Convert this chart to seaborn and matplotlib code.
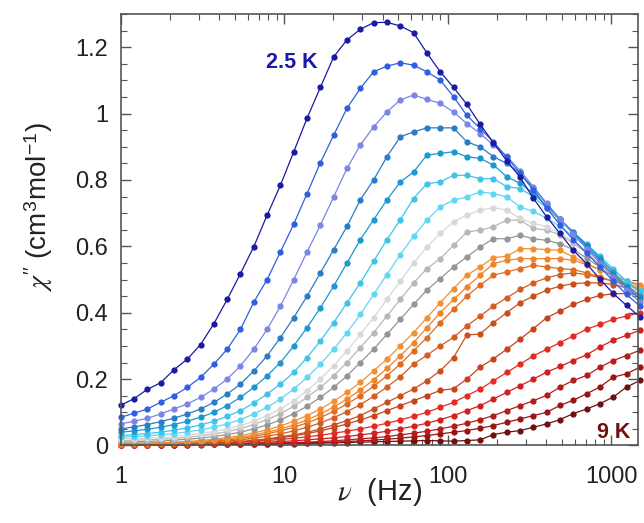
import pandas as pd
import seaborn as sns
import matplotlib.pyplot as plt
from matplotlib.ticker import FuncFormatter, MultipleLocator

# frequency grid (Hz), 40 points
freq = [1.00, 1.206, 1.455, 1.755, 2.117, 2.553, 3.080, 3.715, 4.481, 5.405,
        6.520, 7.864, 9.486, 11.44, 13.80, 16.65, 20.08, 24.22, 29.22, 35.24,
        42.51, 51.28, 61.85, 74.61, 90.00, 108.6, 130.9, 157.9, 190.5, 229.8,
        277.2, 334.3, 403.3, 486.5, 586.8, 707.8, 853.8, 1030, 1242, 1500]

temps = [2.5, 2.75, 3, 3.25, 3.5, 3.75, 4, 4.25, 4.5, 4.75, 5, 5.25, 5.5, 5.75,
         6, 6.5, 7, 7.5, 8, 8.5, 9]

# chi'' (cm3/mol) per temperature
chi_2p5 = [0.121, 0.141, 0.169, 0.189, 0.228, 0.260, 0.304, 0.367, 0.440, 0.518, 0.599, 0.694, 0.784, 0.885, 0.986, 1.079, 1.171, 1.222, 1.254, 1.274, 1.275, 1.264, 1.244, 1.183, 1.126, 1.079, 1.028, 0.968, 0.912, 0.858, 0.808, 0.745, 0.689, 0.639, 0.588, 0.548, 0.501, 0.458, 0.422, 0.387]
chi_2p75 = [0.085, 0.097, 0.110, 0.130, 0.150, 0.175, 0.205, 0.245, 0.290, 0.350, 0.432, 0.500, 0.583, 0.667, 0.759, 0.852, 0.935, 1.016, 1.076, 1.126, 1.143, 1.153, 1.146, 1.126, 1.101, 1.051, 0.995, 0.955, 0.915, 0.868, 0.820, 0.770, 0.715, 0.665, 0.620, 0.580, 0.538, 0.495, 0.455, 0.420]
chi_3 = [0.065, 0.073, 0.082, 0.095, 0.110, 0.125, 0.145, 0.170, 0.200, 0.240, 0.290, 0.350, 0.420, 0.500, 0.583, 0.664, 0.749, 0.835, 0.905, 0.960, 1.005, 1.041, 1.056, 1.043, 1.031, 1.005, 0.970, 0.940, 0.905, 0.872, 0.828, 0.780, 0.730, 0.682, 0.637, 0.593, 0.551, 0.508, 0.468, 0.432]
chi_3p25 = [0.050, 0.056, 0.063, 0.072, 0.082, 0.095, 0.110, 0.130, 0.155, 0.185, 0.225, 0.270, 0.325, 0.385, 0.450, 0.520, 0.590, 0.660, 0.740, 0.800, 0.870, 0.930, 0.945, 0.957, 0.957, 0.957, 0.915, 0.900, 0.870, 0.850, 0.820, 0.775, 0.728, 0.682, 0.640, 0.600, 0.557, 0.515, 0.476, 0.440]
chi_3p5 = [0.040, 0.044, 0.049, 0.055, 0.063, 0.073, 0.085, 0.100, 0.120, 0.145, 0.175, 0.210, 0.250, 0.300, 0.355, 0.415, 0.480, 0.550, 0.620, 0.680, 0.740, 0.794, 0.824, 0.875, 0.880, 0.885, 0.870, 0.865, 0.845, 0.810, 0.790, 0.760, 0.722, 0.682, 0.643, 0.605, 0.565, 0.522, 0.482, 0.450]
chi_3p75 = [0.030, 0.033, 0.036, 0.040, 0.046, 0.053, 0.062, 0.073, 0.088, 0.105, 0.128, 0.155, 0.185, 0.220, 0.265, 0.315, 0.370, 0.430, 0.490, 0.555, 0.620, 0.680, 0.744, 0.789, 0.794, 0.814, 0.814, 0.804, 0.804, 0.780, 0.774, 0.750, 0.715, 0.678, 0.642, 0.607, 0.570, 0.532, 0.495, 0.465]
chi_4 = [0.025, 0.027, 0.029, 0.032, 0.036, 0.041, 0.047, 0.055, 0.065, 0.078, 0.095, 0.115, 0.140, 0.170, 0.205, 0.245, 0.290, 0.340, 0.395, 0.455, 0.515, 0.575, 0.630, 0.679, 0.719, 0.739, 0.749, 0.764, 0.759, 0.749, 0.719, 0.705, 0.685, 0.660, 0.630, 0.597, 0.562, 0.527, 0.495, 0.468]
chi_4p25 = [0.020, 0.021, 0.022, 0.024, 0.027, 0.031, 0.036, 0.042, 0.050, 0.060, 0.073, 0.090, 0.110, 0.135, 0.165, 0.200, 0.240, 0.285, 0.335, 0.385, 0.440, 0.495, 0.550, 0.598, 0.639, 0.674, 0.694, 0.709, 0.717, 0.709, 0.684, 0.669, 0.659, 0.640, 0.615, 0.585, 0.550, 0.517, 0.487, 0.458]
chi_4p5 = [0.015, 0.016, 0.017, 0.019, 0.021, 0.025, 0.029, 0.035, 0.042, 0.051, 0.063, 0.078, 0.096, 0.118, 0.145, 0.175, 0.210, 0.250, 0.295, 0.340, 0.390, 0.440, 0.490, 0.533, 0.563, 0.603, 0.643, 0.649, 0.659, 0.679, 0.679, 0.654, 0.649, 0.635, 0.610, 0.580, 0.547, 0.513, 0.482, 0.452]
chi_4p75 = [0.010, 0.011, 0.012, 0.014, 0.016, 0.019, 0.022, 0.027, 0.033, 0.040, 0.050, 0.062, 0.077, 0.096, 0.118, 0.145, 0.175, 0.210, 0.250, 0.290, 0.335, 0.380, 0.425, 0.468, 0.503, 0.538, 0.568, 0.598, 0.623, 0.623, 0.633, 0.623, 0.618, 0.608, 0.590, 0.565, 0.537, 0.507, 0.478, 0.448]
chi_5 = [0.007, 0.007, 0.008, 0.009, 0.010, 0.012, 0.015, 0.019, 0.024, 0.030, 0.038, 0.047, 0.059, 0.073, 0.090, 0.110, 0.133, 0.160, 0.190, 0.225, 0.260, 0.300, 0.340, 0.385, 0.430, 0.473, 0.513, 0.538, 0.566, 0.570, 0.593, 0.593, 0.590, 0.588, 0.568, 0.548, 0.530, 0.512, 0.497, 0.485]
chi_5p25 = [0.005, 0.006, 0.006, 0.007, 0.008, 0.010, 0.012, 0.016, 0.020, 0.025, 0.032, 0.040, 0.050, 0.062, 0.077, 0.095, 0.116, 0.140, 0.167, 0.198, 0.232, 0.270, 0.310, 0.355, 0.400, 0.440, 0.478, 0.513, 0.548, 0.558, 0.563, 0.563, 0.563, 0.563, 0.558, 0.545, 0.530, 0.512, 0.495, 0.480]
chi_5p5 = [0.004, 0.005, 0.005, 0.006, 0.007, 0.008, 0.010, 0.013, 0.017, 0.021, 0.027, 0.035, 0.044, 0.055, 0.068, 0.084, 0.103, 0.125, 0.150, 0.178, 0.210, 0.245, 0.285, 0.325, 0.370, 0.410, 0.450, 0.483, 0.513, 0.523, 0.533, 0.543, 0.538, 0.533, 0.530, 0.520, 0.508, 0.495, 0.482, 0.470]
chi_5p75 = [0.004, 0.004, 0.005, 0.005, 0.006, 0.007, 0.009, 0.011, 0.014, 0.017, 0.022, 0.028, 0.035, 0.044, 0.055, 0.068, 0.084, 0.102, 0.123, 0.148, 0.176, 0.207, 0.245, 0.272, 0.300, 0.326, 0.360, 0.390, 0.420, 0.445, 0.470, 0.490, 0.505, 0.515, 0.520, 0.515, 0.505, 0.495, 0.485, 0.475]
chi_6 = [0.003, 0.003, 0.003, 0.004, 0.004, 0.005, 0.006, 0.008, 0.010, 0.012, 0.016, 0.020, 0.026, 0.032, 0.040, 0.050, 0.062, 0.075, 0.090, 0.110, 0.130, 0.150, 0.170, 0.195, 0.225, 0.265, 0.333, 0.336, 0.370, 0.400, 0.430, 0.450, 0.468, 0.480, 0.488, 0.490, 0.490, 0.485, 0.475, 0.465]
chi_6p5 = [0.002, 0.002, 0.002, 0.003, 0.003, 0.004, 0.005, 0.007, 0.009, 0.011, 0.014, 0.018, 0.023, 0.029, 0.036, 0.044, 0.054, 0.065, 0.077, 0.090, 0.105, 0.120, 0.135, 0.150, 0.166, 0.171, 0.200, 0.236, 0.261, 0.290, 0.320, 0.352, 0.385, 0.405, 0.425, 0.440, 0.452, 0.457, 0.458, 0.455]
chi_7 = [0.002, 0.002, 0.002, 0.003, 0.003, 0.004, 0.005, 0.006, 0.008, 0.010, 0.012, 0.015, 0.018, 0.022, 0.026, 0.031, 0.037, 0.043, 0.050, 0.058, 0.067, 0.077, 0.088, 0.100, 0.115, 0.130, 0.150, 0.170, 0.195, 0.220, 0.245, 0.270, 0.290, 0.310, 0.330, 0.350, 0.365, 0.380, 0.390, 0.400]
chi_7p5 = [0.001, 0.002, 0.002, 0.002, 0.003, 0.003, 0.004, 0.005, 0.006, 0.007, 0.008, 0.010, 0.012, 0.014, 0.017, 0.020, 0.023, 0.027, 0.032, 0.037, 0.043, 0.050, 0.058, 0.067, 0.078, 0.090, 0.105, 0.120, 0.140, 0.160, 0.180, 0.200, 0.221, 0.238, 0.256, 0.273, 0.297, 0.317, 0.332, 0.347]
chi_8 = [0.001, 0.001, 0.002, 0.002, 0.002, 0.003, 0.003, 0.004, 0.004, 0.005, 0.006, 0.007, 0.008, 0.009, 0.010, 0.012, 0.014, 0.017, 0.020, 0.023, 0.027, 0.032, 0.037, 0.043, 0.050, 0.058, 0.067, 0.078, 0.090, 0.105, 0.120, 0.135, 0.151, 0.176, 0.196, 0.211, 0.236, 0.256, 0.271, 0.287]
chi_8p5 = [0.001, 0.001, 0.001, 0.002, 0.002, 0.002, 0.003, 0.003, 0.004, 0.004, 0.004, 0.005, 0.006, 0.007, 0.008, 0.009, 0.010, 0.012, 0.014, 0.016, 0.019, 0.022, 0.026, 0.030, 0.035, 0.040, 0.045, 0.052, 0.060, 0.070, 0.080, 0.090, 0.100, 0.121, 0.136, 0.156, 0.176, 0.206, 0.216, 0.236]
chi_9 = [0.001, 0.001, 0.001, 0.001, 0.002, 0.002, 0.002, 0.003, 0.003, 0.003, 0.004, 0.004, 0.005, 0.005, 0.006, 0.007, 0.008, 0.009, 0.010, 0.011, 0.012, 0.013, 0.014, 0.015, 0.014, 0.013, 0.015, 0.017, 0.033, 0.040, 0.045, 0.055, 0.065, 0.078, 0.096, 0.110, 0.126, 0.146, 0.176, 0.196]

curves = [chi_2p5, chi_2p75, chi_3, chi_3p25, chi_3p5, chi_3p75, chi_4, chi_4p25,
          chi_4p5, chi_4p75, chi_5, chi_5p25, chi_5p5, chi_5p75, chi_6, chi_6p5,
          chi_7, chi_7p5, chi_8, chi_8p5, chi_9]

colors = ['#1a1aa6', '#2f5fe0', '#7a85e6', '#2a7cc4', '#1a98cf', '#3ec4e8',
          '#62d6f2', '#d8d8d8', '#b8b8b8', '#959595', '#f29030', '#f08428',
          '#e06c22', '#d25e22', '#c8501e', '#c8421c', '#e42a22', '#d02020',
          '#b51c1c', '#961616', '#6e1010']

names = [f"{t:g} K" for t in temps]
rows = []
for name, vals in zip(names, curves):
    for f, v in zip(freq, vals):
        rows.append((name, f, v))
df = pd.DataFrame(rows, columns=['T', 'freq', 'chi'])

sns.set_style('ticks')
plt.rcParams['font.family'] = ['Liberation Sans', 'DejaVu Sans']
plt.rcParams['mathtext.fontset'] = 'custom'
plt.rcParams['mathtext.rm'] = 'Liberation Sans'
plt.rcParams['mathtext.it'] = 'STIXGeneral:italic'
plt.rcParams['mathtext.bf'] = 'Liberation Sans:bold'

fig = plt.figure(figsize=(6.44, 5.23), dpi=100)
ax = fig.add_axes([0.1874, 0.1482, 0.8033, 0.825])

sns.lineplot(data=df, x='freq', y='chi', hue='T', hue_order=names[::-1],
             palette=dict(zip(names, colors)), marker='o', markersize=4.5,
             markeredgewidth=0, linewidth=0.9, estimator=None, sort=False,
             legend=False, ax=ax)
for ln in ax.lines:
    ln.set_clip_on(False)

ax.set_xscale('log')
ax.set_xlim(1, 1460)
ax.set_ylim(0, 1.3)
ax.yaxis.set_major_locator(MultipleLocator(0.2))
ax.yaxis.set_minor_locator(MultipleLocator(0.05))
ax.xaxis.set_major_formatter(FuncFormatter(lambda v, p: f'{v:g}'))
ax.yaxis.set_major_formatter(FuncFormatter(lambda v, p: f'{round(v, 2):g}'))
ax.tick_params(which='both', direction='in', top=True, right=True,
               color='#555555', labelcolor='#222222')
ax.tick_params(which='major', length=7, width=1, labelsize=17)
ax.tick_params(which='minor', length=4, width=0.8)
ax.tick_params(axis='x', pad=15)
ax.tick_params(axis='y', pad=9)
for sp in ax.spines.values():
    sp.set_color('#555555')
    sp.set_linewidth(1.2)

ax.set_xlabel(r'$\nu$  (Hz)', fontsize=21, color='#222222')
ax.set_ylabel(r"$\chi''$ (cm$^3$mol$^{-1}$)", fontsize=20, color='#222222')
ax.xaxis.set_label_coords(0.5, -0.07)
ax.yaxis.set_label_coords(-0.127, 0.552)

ax.text(16, 1.155, '2.5 K', ha='right', va='center', color='#1a1aa6',
        fontsize=15.5, fontweight='bold')
ax.text(1310, 0.039, '9 K', ha='right', va='center', color='#6e1010',
        fontsize=15.5, fontweight='bold')

fig.savefig('out.png', dpi=100)
